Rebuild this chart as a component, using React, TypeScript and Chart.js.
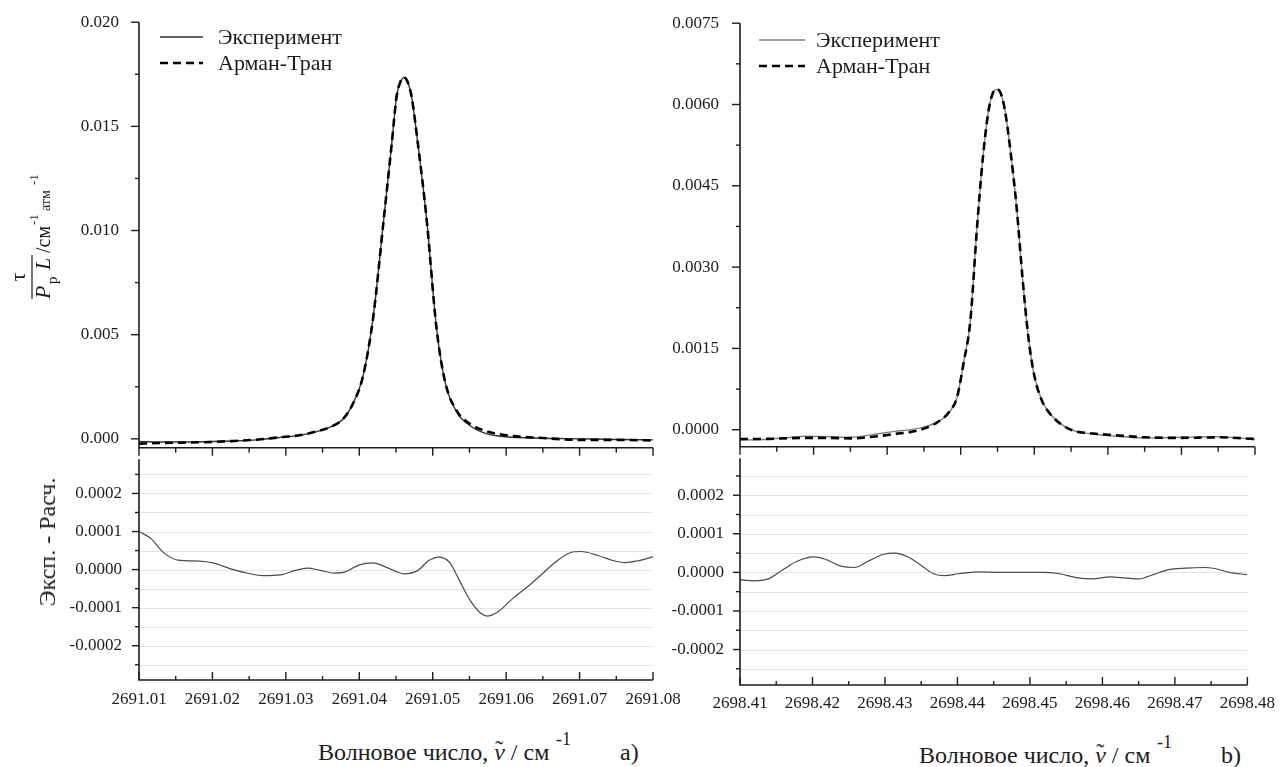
import React, { useEffect, useRef } from 'react';
import { Chart, registerables } from 'chart.js';

Chart.register(...registerables);

const FONT = '"Liberation Serif", "Times New Roman", serif';
const INK = '#1c1c1c';

// Series names
const expName = 'Эксперимент';
const calcName = 'Арман-Тран';

// ---- Panel a: absorption line near 2691.046 cm-1 ----
const waveA = [2691.0100, 2691.0130, 2691.0160, 2691.0200, 2691.0230, 2691.0260, 2691.0296, 2691.0320, 2691.0342, 2691.0360, 2691.0378, 2691.0392, 2691.0405, 2691.0419, 2691.0433, 2691.0444, 2691.0451, 2691.0456, 2691.0461, 2691.0466, 2691.0471, 2691.0480, 2691.0492, 2691.0505, 2691.0517, 2691.0533, 2691.0551, 2691.0574, 2691.0600, 2691.0650, 2691.0700, 2691.0750, 2691.0800];
const expA = [-0.00013, -0.00015, -0.00015, -0.00013, -0.00010, -0.00005, 0.00008, 0.00018, 0.00035, 0.00056, 0.00095, 0.00174, 0.00300, 0.00586, 0.01045, 0.01410, 0.01647, 0.01712, 0.01734, 0.01712, 0.01647, 0.01410, 0.01045, 0.00538, 0.00270, 0.00127, 0.00063, 0.00024, 0.00010, 0.00003, 0.00000, -0.00003, -0.00005];
const calcA = [-0.00023, -0.00020, -0.00018, -0.00015, -0.00010, -0.00004, 0.00009, 0.00018, 0.00036, 0.00056, 0.00096, 0.00173, 0.00300, 0.00585, 0.01044, 0.01410, 0.01648, 0.01713, 0.01735, 0.01712, 0.01647, 0.01411, 0.01044, 0.00536, 0.00272, 0.00133, 0.00071, 0.00036, 0.00017, 0.00004, -0.00005, -0.00005, -0.00008];
const resWaveA = [2691.0100, 2691.0116, 2691.0134, 2691.0153, 2691.0182, 2691.0201, 2691.0224, 2691.0243, 2691.0269, 2691.0293, 2691.0310, 2691.0329, 2691.0347, 2691.0366, 2691.0381, 2691.0400, 2691.0419, 2691.0437, 2691.0461, 2691.0480, 2691.0494, 2691.0508, 2691.0523, 2691.0537, 2691.0551, 2691.0565, 2691.0575, 2691.0589, 2691.0608, 2691.0627, 2691.0646, 2691.0669, 2691.0688, 2691.0702, 2691.0726, 2691.0745, 2691.0762, 2691.0778, 2691.0800];
const resA = [0.000100, 0.000082, 0.000044, 0.000025, 0.0000225, 0.0000175, 0.0000025, -0.0000075, -0.000016, -0.000014, -0.000004, 0.000004, -0.000002, -0.000009, -0.000006, 0.0000125, 0.0000175, 0.0000058, -0.000011, -0.000002, 0.000023, 0.000033, 0.000019, -0.000031, -0.000081, -0.000114, -0.000122, -0.000111, -0.0000775, -0.0000485, -0.0000168, 0.0000225, 0.000045, 0.0000475, 0.0000365, 0.000024, 0.0000183, 0.0000225, 0.0000333];
const xTicksA = [2691.01, 2691.02, 2691.03, 2691.04, 2691.05, 2691.06, 2691.07, 2691.08];
const xMinorA = [2691.015, 2691.025, 2691.035, 2691.045, 2691.055, 2691.065, 2691.075];
const yTicksA = [0, 0.005, 0.01, 0.015, 0.02];
const yMinorA = [0.0025, 0.0075, 0.0125, 0.0175];

// ---- Panel b: absorption line near 2698.445 cm-1 ----
const waveB = [2698.4100, 2698.4130, 2698.4160, 2698.4190, 2698.4220, 2698.4250, 2698.4280, 2698.4310, 2698.4340, 2698.4365, 2698.4385, 2698.4395, 2698.4404, 2698.4413, 2698.4422, 2698.4430, 2698.4438, 2698.4444, 2698.4449, 2698.4454, 2698.4460, 2698.4468, 2698.4476, 2698.4484, 2698.4492, 2698.4500, 2698.4510, 2698.4525, 2698.4550, 2698.4580, 2698.4610, 2698.4650, 2698.4700, 2698.4750, 2698.4800];
const expB = [-0.00019, -0.00018, -0.00015, -0.00012, -0.00013, -0.00014, -0.00009, -0.00003, 0.00002, 0.00012, 0.00033, 0.00060, 0.00124, 0.00200, 0.00370, 0.00500, 0.00590, 0.00622, 0.00628, 0.00622, 0.00590, 0.00510, 0.00410, 0.00280, 0.00170, 0.00100, 0.00055, 0.00024, 0.00000, -0.00008, -0.00012, -0.00015, -0.00014, -0.00013, -0.00018];
const calcB = [-0.00017, -0.00017, -0.00016, -0.00015, -0.00015, -0.00016, -0.00013, -0.00008, -0.00002, 0.00011, 0.00034, 0.00060, 0.00124, 0.00200, 0.00370, 0.00500, 0.00590, 0.00622, 0.00628, 0.00622, 0.00590, 0.00510, 0.00410, 0.00280, 0.00170, 0.00100, 0.00055, 0.00024, 0.00000, -0.00007, -0.00010, -0.00014, -0.00015, -0.00014, -0.00017];
const resWaveB = [2698.4100, 2698.4119, 2698.4139, 2698.4159, 2698.4178, 2698.4201, 2698.4218, 2698.4238, 2698.4258, 2698.4278, 2698.4298, 2698.4313, 2698.4332, 2698.4352, 2698.4367, 2698.4382, 2698.4402, 2698.4432, 2698.4457, 2698.4516, 2698.4541, 2698.4566, 2698.4586, 2698.4611, 2698.4631, 2698.4650, 2698.4670, 2698.4690, 2698.4715, 2698.4740, 2698.4755, 2698.4775, 2698.4800];
const resB = [-0.000019, -0.000022, -0.000017, 0.0000066, 0.000028, 0.000040, 0.000034, 0.000017, 0.0000126, 0.000030, 0.000047, 0.000050, 0.000040, 0.000015, -0.0000035, -0.0000086, -0.0000035, 0.0000015, 0, 0, -0.0000035, -0.0000144, -0.0000169, -0.0000119, -0.0000144, -0.0000169, -0.000006, 0.0000066, 0.0000109, 0.0000126, 0.0000101, 0, -0.000006];
const xTicksB = [2698.41, 2698.42, 2698.43, 2698.44, 2698.45, 2698.46, 2698.47, 2698.48];
const xMinorB = [2698.415, 2698.425, 2698.435, 2698.445, 2698.455, 2698.465, 2698.475];
const yTicksB = [0, 0.0015, 0.003, 0.0045, 0.006, 0.0075];
const yMinorB = [0.00075, 0.00225, 0.00375, 0.00525, 0.00675];

// Residual axis (shared by both panels)
const resTicks = [-0.0002, -0.0001, 0, 0.0001, 0.0002];
const resMinor = [-0.00025, -0.00015, -0.00005, 0.00005, 0.00015, 0.00025];

const pairs = (xs: number[], ys: number[]) => xs.map((x, i) => ({ x, y: ys[i] }));

type FrameOpts = {
  yMajor: number[];
  yMinor: number[];
  xMajor: number[];
  xMinor: number[];
  yLen: [number, number];
  xLen: [number, number];
  xDir: number;
  grid?: boolean;
};

// Draws axis lines, major/minor ticks and the light horizontal grid
function frame(o: FrameOpts) {
  return {
    id: 'frame',
    beforeDatasetsDraw(chart: any) {
      if (!o.grid) return;
      const { ctx, chartArea: ca, scales } = chart;
      ctx.save();
      ctx.strokeStyle = '#e3e3e3';
      ctx.lineWidth = 1;
      [...o.yMajor, ...o.yMinor].forEach((v) => {
        const py = Math.round(scales.y.getPixelForValue(v)) + 0.5;
        ctx.beginPath();
        ctx.moveTo(ca.left, py);
        ctx.lineTo(ca.right, py);
        ctx.stroke();
      });
      ctx.restore();
    },
    afterDatasetsDraw(chart: any) {
      const { ctx, chartArea: ca, scales } = chart;
      ctx.save();
      ctx.strokeStyle = INK;
      ctx.lineWidth = 1.6;
      ctx.beginPath();
      ctx.moveTo(ca.left, ca.top);
      ctx.lineTo(ca.left, ca.bottom);
      ctx.lineTo(ca.right, ca.bottom);
      ctx.stroke();
      ctx.lineWidth = 1.4;
      const yTicks = (vals: number[], len: number) =>
        vals.forEach((v) => {
          const py = scales.y.getPixelForValue(v);
          ctx.beginPath();
          ctx.moveTo(ca.left, py);
          ctx.lineTo(ca.left - len, py);
          ctx.stroke();
        });
      const xTicks = (vals: number[], len: number) =>
        vals.forEach((v) => {
          const px = scales.x.getPixelForValue(v);
          ctx.beginPath();
          ctx.moveTo(px, ca.bottom);
          ctx.lineTo(px, ca.bottom + o.xDir * len);
          ctx.stroke();
        });
      yTicks(o.yMajor, o.yLen[0]);
      yTicks(o.yMinor, o.yLen[1]);
      xTicks(o.xMajor, o.xLen[0]);
      xTicks(o.xMinor, o.xLen[1]);
      ctx.restore();
    },
  };
}

// Legend drawn inside the plot area, in the upper left corner
function insideLegend(x0: number, x1: number, textX: number, rows: number[], order: number[]) {
  return {
    id: 'insideLegend',
    afterDraw(chart: any) {
      const { ctx } = chart;
      ctx.save();
      order.forEach((dsIndex, i) => {
        const ds = chart.data.datasets[dsIndex];
        const y = rows[i];
        ctx.strokeStyle = ds.borderColor;
        ctx.lineWidth = ds.borderWidth;
        ctx.setLineDash(ds.borderDash || []);
        ctx.beginPath();
        ctx.moveTo(x0, y);
        ctx.lineTo(x1, y);
        ctx.stroke();
        ctx.setLineDash([]);
        ctx.fillStyle = INK;
        ctx.font = `22px ${FONT}`;
        ctx.textAlign = 'left';
        ctx.textBaseline = 'middle';
        ctx.fillText(ds.label, textX, y + 1);
      });
      ctx.restore();
    },
  };
}

// Rotated quantity label: τ / (P_p L) / см^-1 атм^-1
const fractionTitle = {
  id: 'fractionTitle',
  afterDraw(chart: any) {
    const { ctx } = chart;
    ctx.save();
    ctx.translate(32, 272);
    ctx.rotate(-Math.PI / 2);
    ctx.fillStyle = INK;
    ctx.strokeStyle = INK;
    ctx.lineWidth = 1.2;
    ctx.beginPath();
    ctx.moveTo(-27, 0);
    ctx.lineTo(17, 0);
    ctx.stroke();
    ctx.textBaseline = 'alphabetic';
    ctx.textAlign = 'center';
    ctx.font = `22px ${FONT}`;
    ctx.fillText('τ', -5, -7);
    ctx.textAlign = 'left';
    ctx.font = `italic 22px ${FONT}`;
    ctx.fillText('P', -27, 18);
    ctx.font = `15px ${FONT}`;
    ctx.fillText('p', -12, 25);
    ctx.font = `italic 22px ${FONT}`;
    ctx.fillText('L', 2, 18);
    ctx.font = `20px ${FONT}`;
    ctx.fillText('/см', 19, 18);
    ctx.font = `13px ${FONT}`;
    ctx.fillText('-1', 47, 6);
    ctx.font = `14px ${FONT}`;
    ctx.fillText('атм', 61, 18);
    ctx.font = `13px ${FONT}`;
    ctx.fillText('-1', 87, 6);
    ctx.restore();
  },
};

const tickFont = { family: FONT, size: 17 };

function yAxis(min: number, max: number, ticks: number[], digits: number, width: number, pad: number) {
  return {
    type: 'linear',
    min,
    max,
    grid: { display: false },
    border: { display: false },
    afterBuildTicks: (s: any) => {
      s.ticks = ticks.map((value) => ({ value }));
    },
    afterFit: (s: any) => {
      s.width = width;
    },
    ticks: {
      autoSkip: false,
      padding: pad,
      color: INK,
      font: tickFont,
      callback: (v: any) => Number(v).toFixed(digits),
    },
  };
}

function xAxis(ticks: number[], showLabels: boolean, height: number, pad: number) {
  return {
    type: 'linear',
    min: ticks[0],
    max: ticks[ticks.length - 1],
    display: showLabels,
    grid: { display: false, drawTicks: false },
    border: { display: false },
    afterBuildTicks: (s: any) => {
      s.ticks = ticks.map((value) => ({ value }));
    },
    afterFit: (s: any) => {
      s.height = height;
    },
    ticks: {
      autoSkip: false,
      maxRotation: 0,
      padding: pad,
      color: INK,
      font: tickFont,
      callback: (v: any) => Number(v).toFixed(2),
    },
  };
}

function baseOptions(padding: any) {
  return {
    animation: false,
    responsive: false,
    events: [],
    layout: { padding, autoPadding: false },
    plugins: { legend: { display: false }, tooltip: { enabled: false } },
    elements: { point: { radius: 0 } },
  };
}

function spectrumChart(
  canvas: HTMLCanvasElement,
  wave: number[],
  exp: number[],
  calc: number[],
  expColor: string,
  xTicks: number[],
  xMinor: number[],
  yMin: number,
  yMax: number,
  yTicks: number[],
  yMinor: number[],
  digits: number,
  yWidth: number,
  yPad: number,
  padding: any,
  legend: any,
  extra: any[]
) {
  return new Chart(canvas, {
    type: 'line',
    data: {
      datasets: [
        {
          label: calcName,
          data: pairs(wave, calc),
          borderColor: '#000',
          borderWidth: 2.6,
          borderDash: [8, 5],
          cubicInterpolationMode: 'monotone',
          fill: false,
        },
        {
          label: expName,
          data: pairs(wave, exp),
          borderColor: expColor,
          borderWidth: 1.4,
          cubicInterpolationMode: 'monotone',
          fill: false,
        },
      ],
    },
    options: {
      ...baseOptions(padding),
      scales: {
        x: xAxis(xTicks, false, 0, 0),
        y: yAxis(yMin, yMax, yTicks, digits, yWidth, yPad),
      },
    } as any,
    plugins: [
      frame({ yMajor: yTicks, yMinor, xMajor: xTicks, xMinor, yLen: [8, 4], xLen: [8, 5], xDir: 1 }),
      legend,
      ...extra,
    ],
  } as any);
}

function residualChart(
  canvas: HTMLCanvasElement,
  wave: number[],
  res: number[],
  xTicks: number[],
  xMinor: number[],
  yMin: number,
  yMax: number,
  yWidth: number,
  yPad: number,
  xHeight: number,
  xPad: number,
  padding: any
) {
  return new Chart(canvas, {
    type: 'line',
    data: {
      datasets: [
        {
          label: 'Эксп. - Расч.',
          data: pairs(wave, res),
          borderColor: '#4a4a4a',
          borderWidth: 1.2,
          cubicInterpolationMode: 'monotone',
          fill: false,
        },
      ],
    },
    options: {
      ...baseOptions(padding),
      scales: {
        x: xAxis(xTicks, true, xHeight, xPad),
        y: yAxis(yMin, yMax, resTicks, 4, yWidth, yPad),
      },
    } as any,
    plugins: [
      frame({ yMajor: resTicks, yMinor: resMinor, xMajor: xTicks, xMinor, yLen: [7, 4], xLen: [8, 4], xDir: -1, grid: true }),
    ],
  } as any);
}

const text = (left: number, top: number, size: number, extra: any = {}) => ({
  position: 'absolute' as const,
  left,
  top,
  fontFamily: FONT,
  fontSize: size,
  lineHeight: 1,
  color: INK,
  whiteSpace: 'nowrap' as const,
  ...extra,
});

// Wavenumber symbol: italic nu with a tilde above it
function Nu() {
  return (
    <span style={{ position: 'relative', display: 'inline-block' }}>
      <i>ν</i>
      <span style={{ position: 'absolute', left: 1, top: -3 }}>˜</span>
    </span>
  );
}

function XTitle({ left, top, label }: { left: number; top: number; label: string }) {
  return (
    <>
      <div style={text(left, top, 24)}>
        Волновое число, <Nu /> / см
      </div>
      <div style={text(left + 238, top - 10, 18)}>-1</div>
      <div style={text(left + 302, top, 24)}>{label}</div>
    </>
  );
}

export default function App() {
  const upA = useRef<HTMLCanvasElement>(null);
  const loA = useRef<HTMLCanvasElement>(null);
  const upB = useRef<HTMLCanvasElement>(null);
  const loB = useRef<HTMLCanvasElement>(null);

  useEffect(() => {
    const charts = [
      spectrumChart(
        upA.current!, waveA, expA, calcA, '#333333', xTicksA, xMinorA,
        -0.00043, 0.02, yTicksA, yMinorA, 3, 139, 12,
        { top: 19, right: 47, bottom: 21, left: 0 },
        insideLegend(160, 203, 218, [37, 63], [1, 0]),
        [fractionTitle]
      ),
      residualChart(
        loA.current!, resWaveA, resA, xTicksA, xMinorA,
        -0.00029, 0.00029, 139, 9, 30, 9,
        { top: 9, right: 47, bottom: 0, left: 0 }
      ),
      spectrumChart(
        upB.current!, waveB, expB, calcB, '#808080', xTicksB, xMinorB,
        -0.000315, 0.0075, yTicksB, yMinorB, 4, 100, 13,
        { top: 23, right: 28, bottom: 18, left: 0 },
        insideLegend(119, 165, 176, [40, 66], [1, 0]),
        []
      ),
      residualChart(
        loB.current!, resWaveB, resB, xTicksB, xMinorB,
        -0.000292, 0.000296, 100, 8, 35, 8,
        { top: 12, right: 28, bottom: 0, left: 0 }
      ),
    ];
    return () => charts.forEach((c) => c.destroy());
  }, []);

  return (
    <div style={{ position: 'absolute', left: 0, top: 0, width: 1283, height: 767, background: '#fff', overflow: 'hidden' }}>
      <canvas ref={upA} width={700} height={470} style={{ position: 'absolute', left: 0, top: 0 }} />
      <canvas ref={loA} width={700} height={270} style={{ position: 'absolute', left: 0, top: 440 }} />
      <canvas ref={upB} width={643} height={470} style={{ position: 'absolute', left: 640, top: 0 }} />
      <canvas ref={loB} width={643} height={280} style={{ position: 'absolute', left: 640, top: 440 }} />

      <div style={text(47, 542, 24, { transform: 'translate(-50%, -50%) rotate(-90deg)' })}>Эксп. - Расч.</div>

      <XTitle left={318} top={740} label="a)" />
      <XTitle left={919} top={743} label="b)" />
    </div>
  );
}
